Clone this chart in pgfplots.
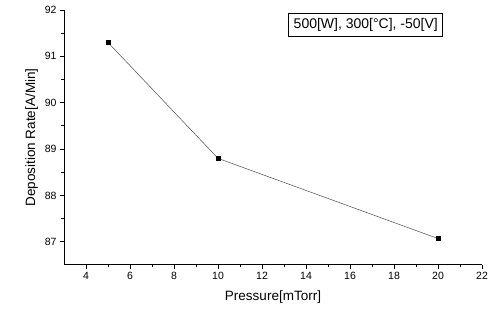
\documentclass[border=0pt]{standalone}
\usepackage{fontspec}
\setmainfont{Liberation Sans}
\usepackage{pgfplots}
\pgfplotsset{compat=1.18}
\begin{document}
\begin{tikzpicture}
\begin{axis}[
  scale only axis,
  width=418pt, height=255pt,
  xmin=3, xmax=22, ymin=86.5, ymax=92,
  axis lines*=left,
  axis line style={black, line width=1pt, -},
  xtick={4,6,...,22},
  ytick={87,88,...,92},
  minor x tick num=1,
  minor y tick num=1,
  tick align=outside,
  major tick length=4pt,
  minor tick length=2.5pt,
  tick style={black, line width=0.8pt},
  tick label style={font=\fontsize{10.5}{12}\selectfont},
  /pgf/number format/assume math mode=true,
  xlabel={Pressure[mTorr]},
  ylabel={Deposition Rate[A/Min]},
  label style={font=\fontsize{13.5}{15}\selectfont},
  xlabel style={yshift=-4pt},
  ylabel style={yshift=0pt},
]
\addplot[color=black!70, line width=0.5pt, mark=square*, mark size=2pt,
  mark options={black, solid}] coordinates {
  (5,91.3) (10,88.8) (20,87.07)
};
\node[draw, line width=1pt, inner sep=5pt, font=\fontsize{14}{15}\selectfont]
  at (rel axis cs:0.722,0.941) {500[W], 300[°C], -50[V]};
\end{axis}
\pgfresetboundingbox
\path ([shift={(-64pt,-53pt)}]current axis.south west) rectangle ([shift={(16pt,10pt)}]current axis.north east);
\end{tikzpicture}
\end{document}
